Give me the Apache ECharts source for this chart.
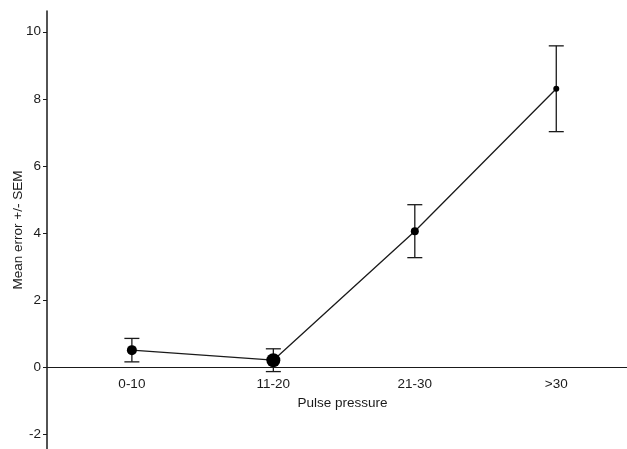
<!DOCTYPE html>
<html>
<head>
<meta charset="utf-8">
<script src="https://cdn.jsdelivr.net/npm/echarts@6/dist/echarts.min.js"></script>
<style>
  html, body { margin: 0; padding: 0; background: #fff; }
  #chart { width: 627px; height: 449px; }
</style>
</head>
<body>
<div id="chart"></div>
<script>
// pulse pressure groups
const categories = ["0-10", "11-20", "21-30", ">30"];
const means = [0.5, 0.2, 4.05, 8.3];
const sem = [0.35, 0.34, 0.79, 1.28];
const markerSizes = [10, 14, 8, 6];
const yTicks = [-2, 0, 2, 4, 6, 8, 10];

const yMin = -2.45, yMax = 10.62;
const gridTop = 11, gridBottom = 0;
const gridH = 449 - gridTop - gridBottom;
// x axis sits at y = 0 together with its labels
const xOffset = -((0 - yMin) / (yMax - yMin)) * gridH;

const chart = echarts.init(document.getElementById("chart"));

const points = means.map((m, i) => [i + 1, m]);
const bars = means.map((m, i) => [i + 1, m - sem[i], m + sem[i]]);

const ink = "#1a1a1a";
const font = "Arial, Liberation Sans";

chart.setOption({
  animation: false,
  grid: { left: 47, right: 0, top: gridTop, bottom: gridBottom, outerBoundsMode: "none" },
  xAxis: {
    type: "value",
    min: 0.4,
    max: 4.5,
    position: "bottom",
    offset: xOffset,
    name: "Pulse pressure",
    nameLocation: "middle",
    nameGap: 29,
    nameMoveOverlap: false,
    nameTextStyle: { color: ink, fontSize: 13.5, fontFamily: font, padding: [0, 0, 0, 11] },
    axisLine: { onZero: false, lineStyle: { color: ink, width: 1 } },
    axisTick: { show: false },
    splitLine: { show: false },
    axisLabel: {
      customValues: [1, 2, 3, 4],
      formatter: (v) => categories[Math.round(v) - 1] || "",
      color: ink,
      fontSize: 13.5,
      fontFamily: font,
      margin: 10
    }
  },
  yAxis: {
    type: "value",
    min: yMin,
    max: yMax,
    name: "Mean error +/- SEM",
    nameLocation: "middle",
    nameGap: 22,
    nameMoveOverlap: false,
    nameTextStyle: { color: ink, fontSize: 13.5, fontFamily: font },
    axisLine: { show: true, lineStyle: { color: ink, width: 1.5 } },
    axisTick: { show: true, customValues: yTicks, length: 4, lineStyle: { color: ink } },
    splitLine: { show: false },
    axisLabel: {
      customValues: yTicks,
      color: ink,
      fontSize: 13.5,
      fontFamily: font,
      margin: 6
    }
  },
  series: [
    {
      type: "custom",
      z: 1,
      data: bars,
      renderItem: (params, api) => {
        const x = api.value(0);
        const lo = api.coord([x, api.value(1)]);
        const hi = api.coord([x, api.value(2)]);
        const half = 7.5;
        const style = { stroke: ink, lineWidth: 1.3 };
        return {
          type: "group",
          children: [
            { type: "line", shape: { x1: lo[0], y1: lo[1], x2: hi[0], y2: hi[1] }, style },
            { type: "line", shape: { x1: hi[0] - half, y1: hi[1], x2: hi[0] + half, y2: hi[1] }, style },
            { type: "line", shape: { x1: lo[0] - half, y1: lo[1], x2: lo[0] + half, y2: lo[1] }, style }
          ]
        };
      }
    },
    {
      type: "line",
      z: 2,
      data: points,
      symbol: "circle",
      symbolSize: (v, p) => markerSizes[p.dataIndex],
      itemStyle: { color: "#000" },
      lineStyle: { color: ink, width: 1.3 }
    }
  ]
});
</script>
</body>
</html>
